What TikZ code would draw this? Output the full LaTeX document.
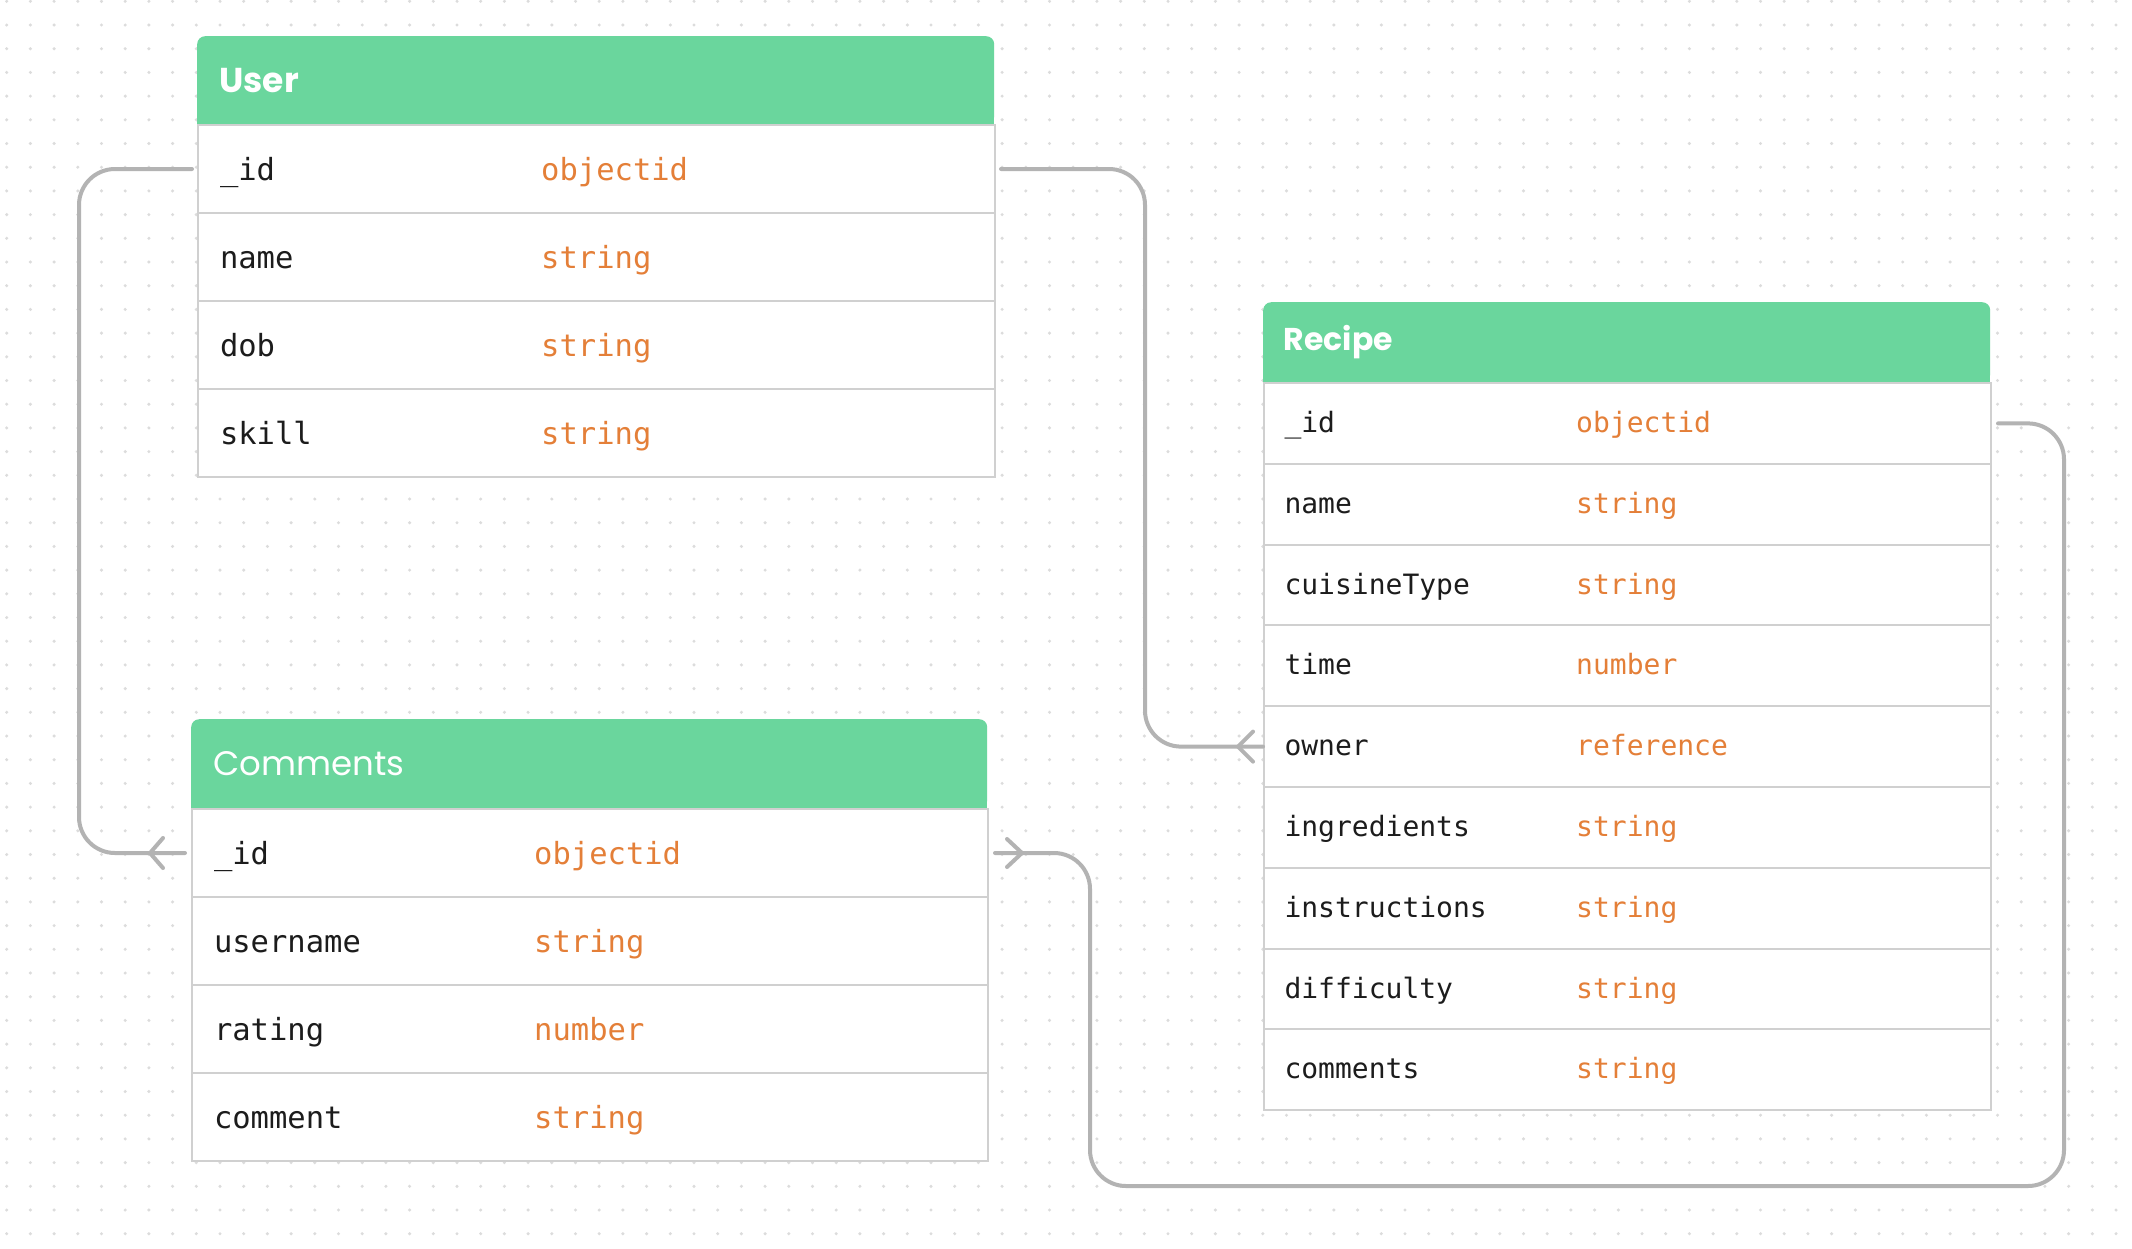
\documentclass[tikz,border=0pt]{standalone}
\usepackage{fontspec}
\usetikzlibrary{calc}
\newfontfamily\hdrfont{Poppins}
\newfontfamily\rowmono{DejaVu Sans Mono}
\definecolor{hdrgreen}{RGB}{106,214,157}
\definecolor{typeorange}{RGB}{228,127,56}
\definecolor{namedark}{RGB}{28,28,28}
\definecolor{bordergray}{RGB}{208,208,208}
\definecolor{conngray}{RGB}{179,179,179}
\definecolor{dotgray}{RGB}{220,220,220}
\begin{document}
\begin{tikzpicture}[x=1pt,y=-1pt,
  hdr/.style={fill=hdrgreen, rounded corners=8pt, anchor=north west, inner ysep=0pt, text=white, align=left},
  rowbox/.style={draw=bordergray, line width=2pt, fill=white, anchor=north west, inner ysep=0pt, align=left, text=namedark},
  typ/.style={anchor=west, inner sep=0pt, text=typeorange},
  ufont/.style={font=\rowmono\fontsize{30.5}{36}\selectfont, text height=29pt, text depth=6pt},
  rfont/.style={font=\rowmono\fontsize{28}{33}\selectfont, text height=26pt, text depth=8pt},
  conn/.style={draw=conngray, line width=4pt, line cap=round, rounded corners=36pt},
  chev/.style={draw=conngray, line width=4pt, line cap=round, line join=round}
]
\useasboundingbox (0,0) rectangle (2132,1248);
\fill[white] (0,0) rectangle (2132,1248);
% dot grid
\foreach \i in {0,...,89}{
  \foreach \j in {0,...,52}{
    \fill[dotgray] ({6.7+23.7*\i},{1.3+23.7*\j}) circle (1.7);
  }
}
% ---------- User ----------
\fill[hdrgreen] (197,80) rectangle (994,124);
\node[hdr, minimum width=797pt, minimum height=88pt, text width=753pt, inner xsep=22pt,
  font=\hdrfont\bfseries\fontsize{34.5}{40}\selectfont] (uh) at (197,36) {User};
\foreach \n/\t [count=\i] in {\_id/objectid, name/string, dob/string, skill/string}{
  \node[rowbox, ufont, minimum width=797pt, minimum height=88pt, text width=753pt, inner xsep=22pt]
    (u\i) at (197,{124+88*(\i-1)}) {\n};
  \node[typ, ufont] (u\i-t) at ($(u\i.west)+(344,0)$) {\t};
}
% ---------- Comments ----------
\fill[hdrgreen] (191,764) rectangle (987,808);
\node[hdr, minimum width=796pt, minimum height=89pt, text width=752pt, inner xsep=22pt,
  font=\hdrfont\fontsize{34}{40}\selectfont] (ch) at (191,719) {Comments};
\foreach \n/\t [count=\i] in {\_id/objectid, username/string, rating/number, comment/string}{
  \node[rowbox, ufont, minimum width=796pt, minimum height=88pt, text width=752pt, inner xsep=22pt]
    (c\i) at (191,{808+88*(\i-1)}) {\n};
  \node[typ, ufont] (c\i-t) at ($(c\i.west)+(343,0)$) {\t};
}
% ---------- Recipe ----------
\fill[hdrgreen] (1263,342) rectangle (1990,382);
\node[hdr, minimum width=727pt, minimum height=80pt, text width=686pt, inner xsep=20.5pt,
  font=\hdrfont\bfseries\fontsize{31.5}{37}\selectfont] (rh) at (1263,302) {Recipe};
\foreach \n/\t [count=\i] in {\_id/objectid, name/string, cuisineType/string, time/number,
  owner/reference, ingredients/string, instructions/string, difficulty/string, comments/string}{
  \node[rowbox, rfont, minimum width=727pt, minimum height=80.8pt, text width=686pt, inner xsep=20.5pt]
    (r\i) at (1263,{382+80.8*(\i-1)}) {\n};
  \node[typ, rfont] (r\i-t) at ($(r\i.west)+(313,0)$) {\t};
}
% ---------- Connectors ----------
% User._id -> Comments._id
\draw[conn] ([xshift=-5pt]u1.west) -- ++(-113,0) |- ([xshift=-6pt]c1.west);
\draw[chev] ($(c1.west)+(-28,-15)$) -- ($(c1.west)+(-41,0)$) -- ($(c1.west)+(-28,15)$);
% User._id -> Recipe.owner
\draw[conn] ([xshift=5pt]u1.east) -- ++(144,0) |- (r5.west);
\draw[chev] ($(r5.west)+(-10,-15)$) -- ($(r5.west)+(-25,0)$) -- ($(r5.west)+(-10,15)$);
% Recipe._id -> Comments._id
\coordinate (cb) at (1090,1186);
\draw[conn] ([xshift=6pt]r1.east) -- ++(66,0) |- (cb) |- ([xshift=6pt]c1.east);
\draw[chev] ($(c1.east)+(18,-14)$) -- ($(c1.east)+(33,0)$) -- ($(c1.east)+(18,14)$);
\end{tikzpicture}
\end{document}
